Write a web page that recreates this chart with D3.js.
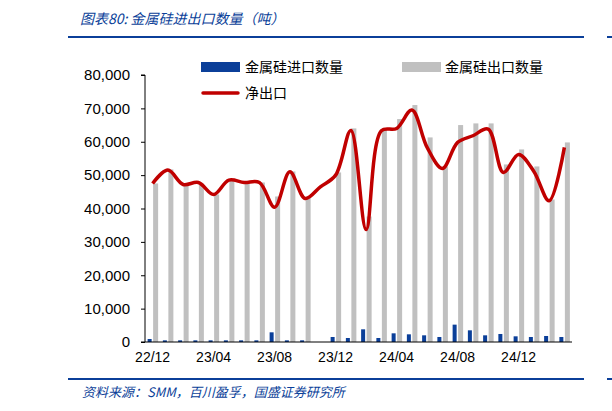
<!DOCTYPE html>
<html><head><meta charset="utf-8">
<script src="https://cdn.jsdelivr.net/npm/d3@7"></script>
<style>body{margin:0;background:#fff}svg{display:block}</style>
</head><body>
<div id="chart"></div>
<script>
// months 22/12 .. 25/03
var months = ["22/12","23/01","23/02","23/03","23/04","23/05","23/06","23/07","23/08","23/09","23/10","23/11",
  "23/12","24/01","24/02","24/03","24/04","24/05","24/06","24/07","24/08","24/09","24/10","24/11","24/12","25/01","25/02","25/03"];
var imports = [900,500,500,500,500,500,500,500,2900,500,500,null,
  1500,1200,3800,1200,2600,2300,2000,1500,5200,3500,2000,2400,1700,1500,1800,1500];
var exports = [47500,51700,47200,47500,44200,48700,47800,47800,43600,51100,43300,null,
  50800,64000,37600,64000,66800,71000,61300,52600,65000,65500,65500,53200,57700,52600,42700,59800];
var netExports = [47500,51500,47200,47800,44200,48500,47800,47800,40400,51000,43000,46500,
  50000,63400,33700,63300,64000,69500,58300,52000,59800,61800,63800,50800,56200,51100,42300,58300];
var yTicks = [0,10000,20000,30000,40000,50000,60000,70000,80000];
var tickMonths = ["22/12","23/04","23/08","23/12","24/04","24/08","24/12"];

var svg = d3.select("#chart").append("svg").attr("width",612).attr("height",411);
var cjk = "'Noto Sans CJK SC', sans-serif";
var blue = "#0b3f99";

var x = d3.scaleBand().domain(months).range([145,572]);
var y = d3.scaleLinear().domain([0,80000]).range([342,75]);

// title
svg.append("text").attr("x",80).attr("y",24).attr("font-family",cjk).attr("font-style","italic")
  .attr("font-size",14).attr("fill",blue).text("图表80: 金属硅进出口数量（吨）");
svg.append("line").attr("x1",68).attr("x2",584).attr("y1",37).attr("y2",37).attr("stroke",blue).attr("stroke-width",2);
svg.append("line").attr("x1",607).attr("x2",612).attr("y1",37).attr("y2",37).attr("stroke",blue).attr("stroke-width",2);
svg.append("line").attr("x1",68).attr("x2",584).attr("y1",379).attr("y2",379).attr("stroke",blue).attr("stroke-width",2);
svg.append("line").attr("x1",607).attr("x2",612).attr("y1",379).attr("y2",379).attr("stroke",blue).attr("stroke-width",2);
svg.append("text").attr("x",82).attr("y",397).attr("font-family",cjk).attr("font-style","italic")
  .attr("font-size",13).attr("fill",blue).text("资料来源：SMM，百川盈孚，国盛证券研究所");

// bars
svg.append("g").selectAll("rect").data(months).enter().filter(function(d,i){return exports[i]!=null;})
  .append("rect").attr("x",function(d){return x(d)+x.bandwidth()/2+0.5;}).attr("width",5)
  .attr("y",function(d){return y(exports[months.indexOf(d)]);})
  .attr("height",function(d){return 342-y(exports[months.indexOf(d)]);}).attr("fill","#c0c0c0");
svg.append("g").selectAll("rect").data(months).enter().filter(function(d,i){return imports[i]!=null;})
  .append("rect").attr("x",function(d){return x(d)+x.bandwidth()/2-5;}).attr("width",4)
  .attr("y",function(d){return y(imports[months.indexOf(d)]);})
  .attr("height",function(d){return 342-y(imports[months.indexOf(d)]);}).attr("fill",blue);

// net export line
var line = d3.line().x(function(d,i){return x(months[i])+x.bandwidth()/2;}).y(function(d){return y(d);})
  .curve(d3.curveCatmullRom.alpha(0.5));
svg.append("path").datum(netExports).attr("d",line).attr("fill","none").attr("stroke","#c00000").attr("stroke-width",3.5);

// axes
var yAxis = d3.axisLeft(y).tickValues(yTicks).tickSize(4).tickFormat(d3.format(","));
var gy = svg.append("g").attr("transform","translate(145,0)").call(yAxis);
gy.select(".domain").attr("d","M-4,75H0V342H-4");
gy.selectAll("text").attr("font-family","'Liberation Sans', Arial, sans-serif").attr("font-size",15).attr("fill","#000").attr("x",-15);
var xAxis = d3.axisBottom(x).tickValues(tickMonths).tickSize(0);
var gx = svg.append("g").attr("transform","translate(0,342)").call(xAxis);
gx.select(".domain").attr("d","M145,0H572");
gx.selectAll("text").attr("font-family","'Liberation Sans', Arial, sans-serif").attr("font-size",14).attr("fill","#000").attr("dy","1.2em");

// legend
var lg = svg.append("g").attr("font-family",cjk).attr("font-size",14);
lg.append("rect").attr("x",201).attr("y",62).attr("width",39).attr("height",10).attr("fill",blue);
lg.append("text").attr("x",245).attr("y",72).text("金属硅进口数量");
lg.append("rect").attr("x",402).attr("y",62).attr("width",39).attr("height",10).attr("fill","#c0c0c0");
lg.append("text").attr("x",445).attr("y",72).text("金属硅出口数量");
lg.append("line").attr("x1",203).attr("x2",238).attr("y1",93).attr("y2",93).attr("stroke","#c00000").attr("stroke-width",3.5).attr("stroke-linecap","round");
lg.append("text").attr("x",245).attr("y",98).text("净出口");
</script>
</body></html>
